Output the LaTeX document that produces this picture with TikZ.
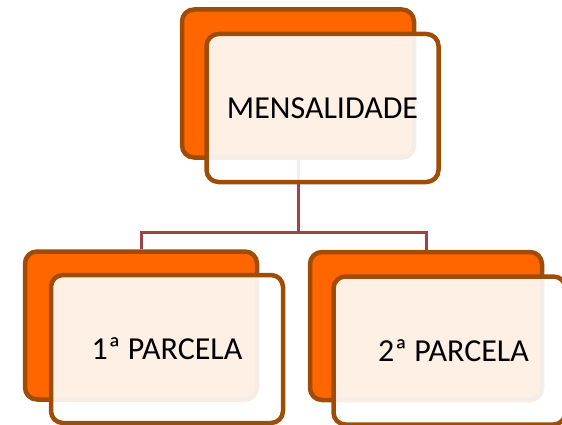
\documentclass[tikz,border=0pt]{standalone}
\usepackage{fontspec}
\setmainfont{Carlito}
\usetikzlibrary{calc}
\definecolor{boxorange}{RGB}{255,102,0}
\definecolor{boxbrown}{RGB}{158,76,6}
\definecolor{linkred}{RGB}{160,67,72}
\begin{document}
\begin{tikzpicture}[x=1pt,y=-1pt,
  backbox/.style={draw=boxbrown,line width=4.5pt,fill=boxorange,rounded corners=12pt,
    minimum width=232pt,minimum height=148pt,inner sep=0pt},
  frontbox/.style={draw=boxbrown,line width=4.5pt,fill=white,fill opacity=0.9,text opacity=1,
    rounded corners=12pt,minimum width=232pt,minimum height=148pt,inner sep=0pt,
    font=\fontsize{32}{36}\selectfont},
  link/.style={draw=linkred,line width=3pt}]
\useasboundingbox (0,0) rectangle (562,425);
% back
\node [backbox] (mensB) at (298,83.5) {};
\node [backbox] (parc1B) at (141,325.5) {};
\node [backbox] (parc2B) at (426,326) {};
% links
\coordinate (jn) at (298,232);
\draw [link] (mensB.south) -- (mensB.south |- jn) -| (parc1B.north);
\draw [link] (mensB.south |- jn) -| (parc2B.north);
% front
\node [frontbox] (mens) at ($(mensB)+(24.5,24.5)$) {MENSALIDADE};
\node [frontbox] (parc1) at ($(parc1B)+(26,23.5)$) {1ª PARCELA};
\node [frontbox] (parc2) at ($(parc2B)+(23.5,24.5)$) {\hspace*{8pt}2ª PARCELA};
\end{tikzpicture}
\end{document}
